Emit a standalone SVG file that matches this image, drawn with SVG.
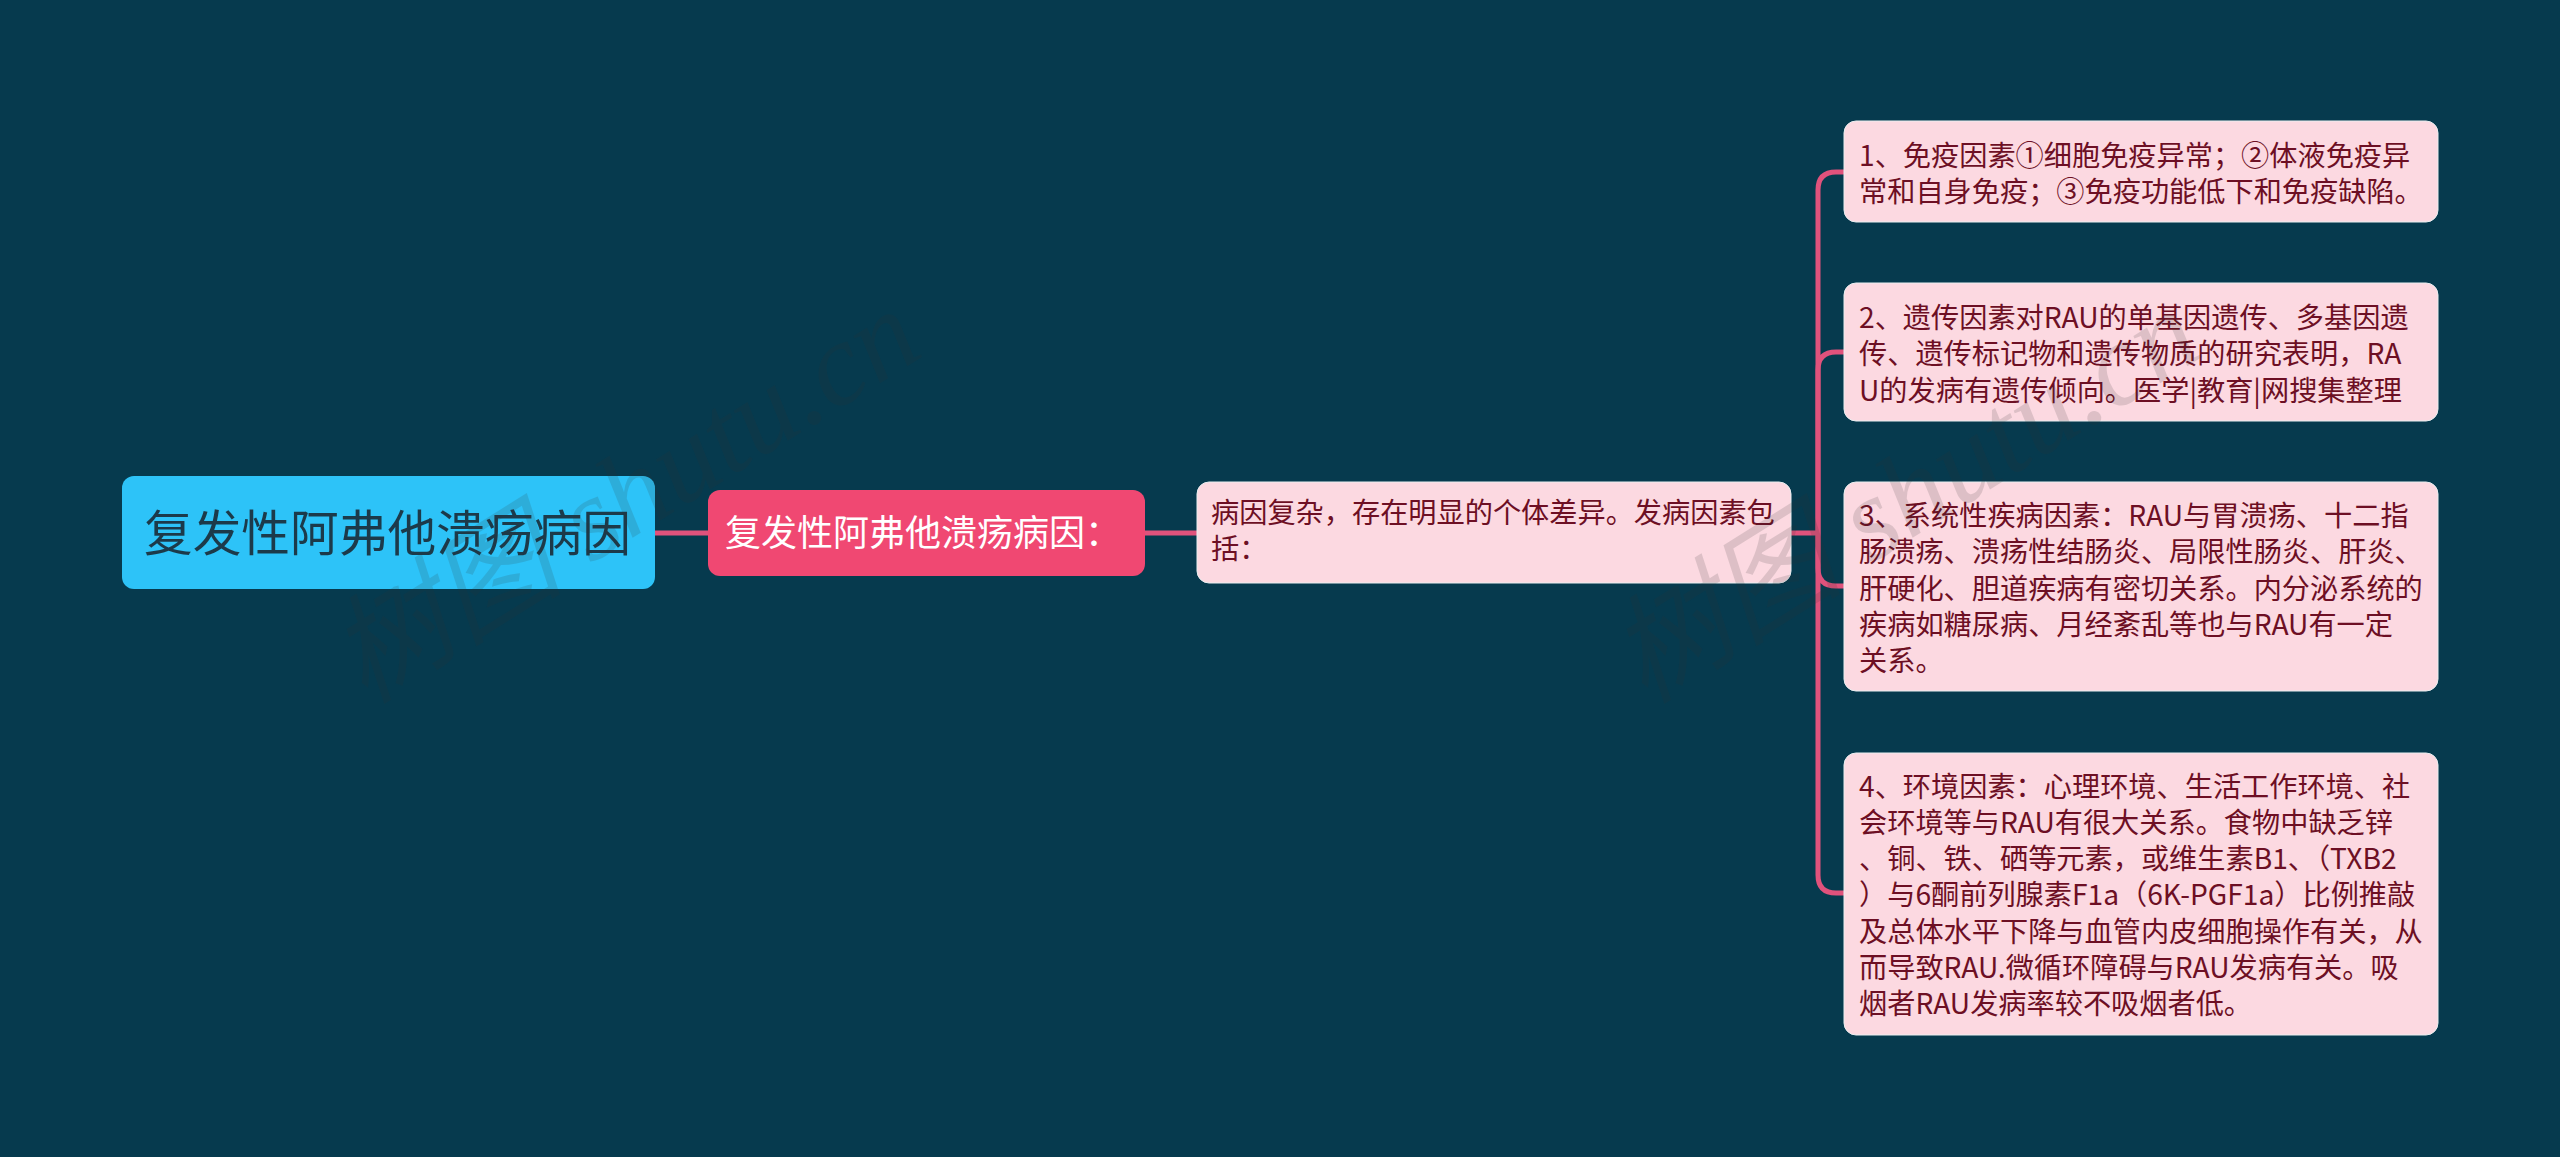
<svg xmlns="http://www.w3.org/2000/svg" width="2560" height="1157" viewBox="0 0 2560 1157">
<style>
text{font-family:"Noto Sans CJK SC","Noto Sans",sans-serif}
.c{fill:none;stroke:#e0527c;stroke-width:5}
.leaf rect{fill:#fcd9e1;stroke:#e9eef0;stroke-width:1}
.leaf text{font-size:28.2px;fill:#6d0f24}
.wm{font-size:118px;fill:#333;opacity:.15;font-family:"Liberation Serif","Noto Sans CJK SC",serif;font-style:italic}
</style>
<rect width="2560" height="1157" fill="#063a4e"/>
<g id="connectors">
<path class="c" d="M654 533H708"/>
<path class="c" d="M1145 533H1197"/>
<path class="c" d="M1791 533H1818"/>
<path class="c" d="M1844 172H1836Q1818 172 1818 190V875Q1818 893 1836 893H1844"/>
<path class="c" d="M1844 352H1836Q1818 352 1818 370V568Q1818 586 1836 586H1844"/>
</g>
<g id="root"><rect x="122" y="476" width="533" height="113" rx="12" fill="#2dc3f8"/><text x="144" y="551" font-size="48.7" fill="#1c3a4a">复发性阿弗他溃疡病因</text></g>
<g id="sub"><rect x="708" y="490" width="437" height="86" rx="12" fill="#f04872"/><text x="725" y="546" font-size="36" fill="#fff">复发性阿弗他溃疡病因：</text></g>
<g id="mid" class="leaf"><rect x="1197" y="482" width="594" height="101" rx="12"/><text x="1211" y="523">病因复杂，存在明显的个体差异。发病因素包</text><text x="1211" y="559">括：</text></g>
<g id="n1" class="leaf"><rect x="1844" y="121" width="594" height="101" rx="12"/><text x="1859" y="166">1、免疫因素①细胞免疫异常；②体液免疫异</text><text x="1859" y="202">常和自身免疫；③免疫功能低下和免疫缺陷。</text></g>
<g id="n2" class="leaf"><rect x="1844" y="283" width="594" height="138" rx="12"/><text x="1859" y="328">2、遗传因素对RAU的单基因遗传、多基因遗</text><text x="1859" y="364">传、遗传标记物和遗传物质的研究表明，RA</text><text x="1859" y="401">U的发病有遗传倾向。医学|教育|网搜集整理</text></g>
<g id="n3" class="leaf"><rect x="1844" y="482" width="594" height="209" rx="12"/><text x="1859" y="526">3、系统性疾病因素：RAU与胃溃疡、十二指</text><text x="1859" y="562">肠溃疡、溃疡性结肠炎、局限性肠炎、肝炎、</text><text x="1859" y="599">肝硬化、胆道疾病有密切关系。内分泌系统的</text><text x="1859" y="635">疾病如糖尿病、月经紊乱等也与RAU有一定</text><text x="1859" y="671">关系。</text></g>
<g id="n4" class="leaf"><rect x="1844" y="753" width="594" height="282" rx="12"/><text x="1859" y="797">4、环境因素：心理环境、生活工作环境、社</text><text x="1859" y="833">会环境等与RAU有很大关系。食物中缺乏锌</text><text x="1859" y="869">、铜、铁、硒等元素，或维生素B1、（TXB2</text><text x="1859" y="905">）与6酮前列腺素F1a（6K-PGF1a）比例推敲</text><text x="1859" y="942">及总体水平下降与血管内皮细胞操作有关，从</text><text x="1859" y="978">而导致RAU.微循环障碍与RAU发病有关。吸</text><text x="1859" y="1014">烟者RAU发病率较不吸烟者低。</text></g>
<g id="watermarks"><text class="wm" transform="translate(365 705) rotate(-32)">树图 shutu.cn</text><text class="wm" transform="translate(1645 705) rotate(-32)">树图 shutu.cn</text></g>
</svg>
